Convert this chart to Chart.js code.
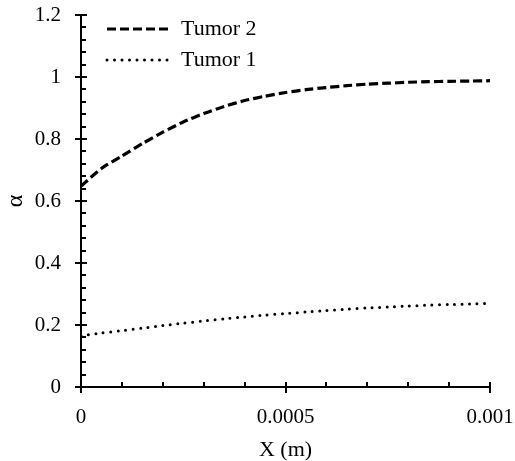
<!DOCTYPE html>
<html>
<head>
<meta charset="utf-8">
<script src="https://cdn.jsdelivr.net/npm/chart.js@4.4.0/dist/chart.umd.min.js"></script>
<style>
  html, body { margin: 0; padding: 0; background: #fff; }
</style>
</head>
<body>
<canvas id="chart" width="515" height="461"></canvas>
<script>
// values
const xValues = [0, 0.00005, 0.0001, 0.00015, 0.0002, 0.00025, 0.0003, 0.00035, 0.0004, 0.00045, 0.0005,
                 0.00055, 0.0006, 0.00065, 0.0007, 0.00075, 0.0008, 0.00085, 0.0009, 0.00095, 0.001];
const tumor2 = [0.648, 0.705, 0.745, 0.785, 0.822, 0.855, 0.882, 0.905, 0.924, 0.938, 0.950,
                0.959, 0.966, 0.972, 0.977, 0.980, 0.983, 0.985, 0.986, 0.987, 0.988];
const tumor1 = [0.165, 0.174, 0.182, 0.190, 0.198, 0.206, 0.213, 0.220, 0.226, 0.232, 0.237,
                0.242, 0.247, 0.251, 0.255, 0.258, 0.261, 0.264, 0.266, 0.268, 0.270];
const seriesNames = ['Tumor 2', 'Tumor 1'];

const xTicks = [0, 0.0005, 0.001];
const xTickLabels = ['0', '0.0005', '0.001'];
const yTicks = [0, 0.2, 0.4, 0.6, 0.8, 1, 1.2];
const yTickLabels = ['0', '0.2', '0.4', '0.6', '0.8', '1', '1.2'];
const xMinorStep = 0.0001;
const yMinorStep = 0.04;

const FONT = "'Liberation Serif', 'Times New Roman', serif";

const toPoints = (ys) => xValues.map((x, i) => ({ x, y: ys[i] }));

// excel-like tick marks: majors cross the axis, minors sit inside
const axisTicks = {
    id: 'axisTicks',
    afterLayout(chart){
        // legend sits inside the plot, a little in from the top-left corner
        const a = chart.chartArea, lg = chart.legend;
        lg.left = a.left + 17;
        lg.top = a.top - 6;
    },
    afterDraw(chart){
        const { ctx, chartArea: a, scales: { x, y } } = chart;
        ctx.save();
        ctx.strokeStyle = '#000';
        ctx.lineWidth = 2;
        ctx.beginPath();
        xTicks.forEach(v => {
            const p = Math.round(x.getPixelForValue(v));
            ctx.moveTo(p, a.bottom - 5); ctx.lineTo(p, a.bottom + 6);
        });
        for (let v = xMinorStep; v < x.max - 1e-9; v += xMinorStep){
            const p = Math.round(x.getPixelForValue(v));
            ctx.moveTo(p, a.bottom); ctx.lineTo(p, a.bottom - 5);
        }
        yTicks.forEach(v => {
            const p = Math.round(y.getPixelForValue(v));
            ctx.moveTo(a.left - 6, p); ctx.lineTo(a.left + 6, p);
        });
        for (let v = yMinorStep; v < y.max - 1e-9; v += yMinorStep){
            const p = Math.round(y.getPixelForValue(v));
            ctx.moveTo(a.left, p); ctx.lineTo(a.left + 5, p);
        }
        ctx.stroke();
        ctx.restore();
    }
};

new Chart(document.getElementById('chart'), {
    type: 'line',
    data: {
        datasets: [
            { label: seriesNames[0], data: toPoints(tumor2), borderColor: '#000', borderWidth: 3.2,
              borderDash: [9, 4], pointRadius: 0, tension: 0.2, fill: false },
            { label: seriesNames[1], data: toPoints(tumor1), borderColor: '#000', borderWidth: 3,
              borderDash: [0, 7.5], borderCapStyle: 'round', pointRadius: 0, tension: 0.2, fill: false }
        ]
    },
    options: {
        responsive: false,
        animation: false,
        devicePixelRatio: 1,
        layout: { padding: { top: 15, right: 25, left: 0, bottom: 0 } },
        plugins: {
            tooltip: { enabled: false },
            legend: {
                position: 'chartArea',
                align: 'start',
                labels: {
                    usePointStyle: true,
                    pointStyle: 'line',
                    pointStyleWidth: 63,
                    color: '#000',
                    padding: 9,
                    font: { family: FONT, size: 22 },
                    generateLabels: (chart) => Chart.defaults.plugins.legend.labels.generateLabels(chart)
                        .map((item, i) => {
                            const ds = chart.data.datasets[i];
                            return Object.assign(item, { lineDash: ds.borderDash, lineCap: ds.borderCapStyle || 'butt',
                                                         lineWidth: ds.borderWidth, strokeStyle: ds.borderColor });
                        })
                }
            }
        },
        scales: {
            x: {
                type: 'linear', min: 0, max: 0.001,
                afterFit: (s) => { s.height = 74; s.paddingLeft = 0; s.paddingRight = 0; },
                afterBuildTicks: (s) => { s.ticks = xTicks.map(v => ({ value: v })); },
                grid: { display: false, drawTicks: false },
                border: { display: true, color: '#000', width: 2 },
                ticks: { color: '#000', padding: 18, maxRotation: 0, autoSkip: false,
                         font: { family: FONT, size: 21 },
                         callback: (v) => xTickLabels[xTicks.indexOf(v)] },
                title: { display: true, text: 'X (m)', color: '#000', padding: 0,
                         font: { family: FONT, size: 22, lineHeight: 1 } }
            },
            y: {
                type: 'linear', min: 0, max: 1.2,
                afterFit: (s) => { s.width = 81; s.paddingTop = 0; s.paddingBottom = 0; },
                afterBuildTicks: (s) => { s.ticks = yTicks.map(v => ({ value: v })); },
                grid: { display: false, drawTicks: false },
                border: { display: true, color: '#000', width: 2 },
                ticks: { color: '#000', padding: 20, autoSkip: false,
                         font: { family: FONT, size: 21 },
                         callback: (v) => yTickLabels[yTicks.indexOf(v)] },
                title: { display: true, text: 'α', color: '#000', padding: { top: 4, bottom: 0 },
                         font: { family: FONT, size: 24, lineHeight: 1 } }
            }
        }
    },
    plugins: [axisTicks]
});
</script>
</body>
</html>
